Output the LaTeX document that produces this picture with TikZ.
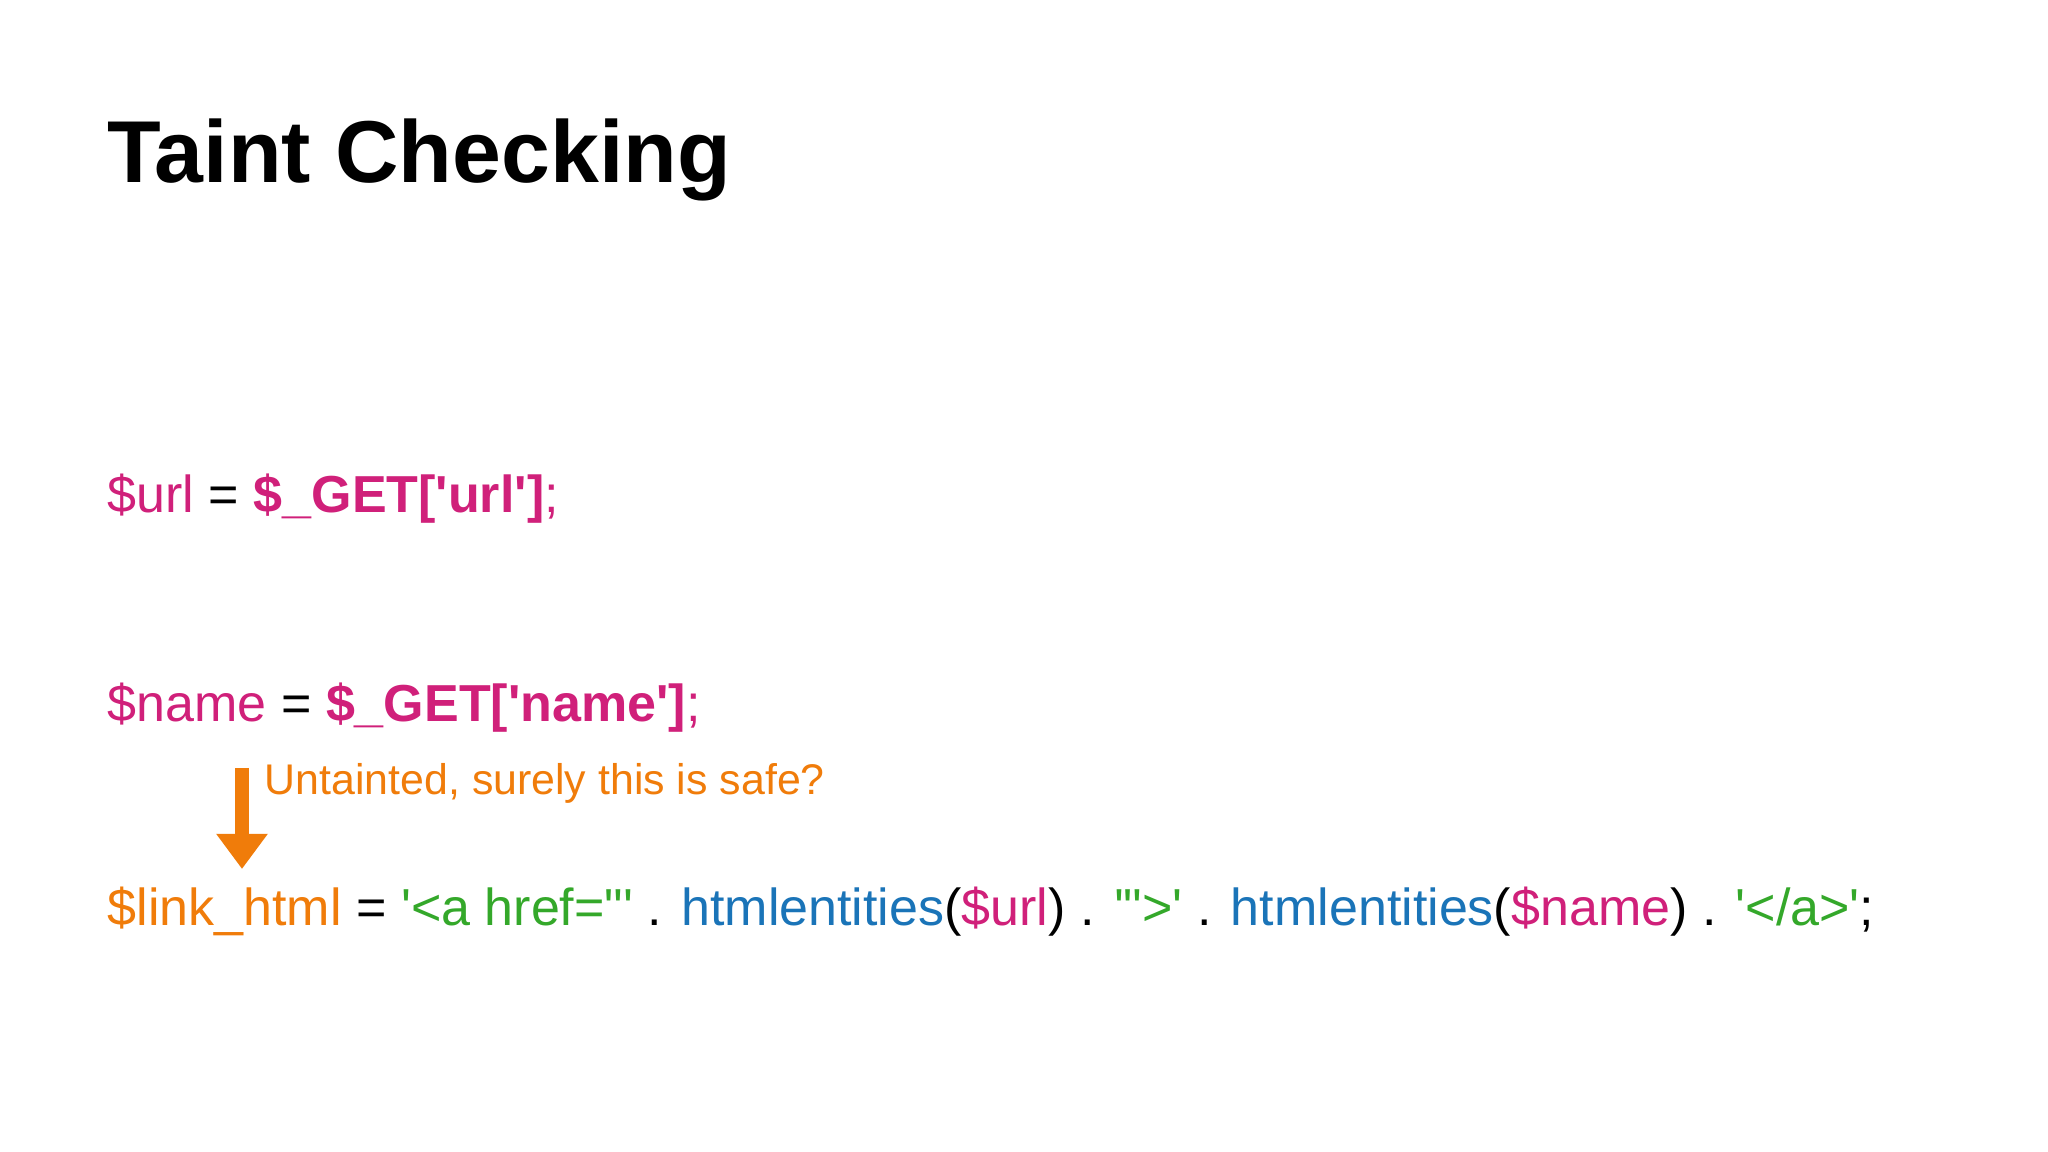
\documentclass[tikz,border=0pt]{standalone}
\usepackage{fontspec}
\setmainfont{Liberation Sans}
\newfontfamily\codefont{Liberation Sans}
\usetikzlibrary{arrows.meta}
\definecolor{mag}{HTML}{D0207A}
\definecolor{grn}{HTML}{34A82A}
\definecolor{blu}{HTML}{1A74B8}
\definecolor{org}{HTML}{F07C0A}
\begin{document}
\begin{tikzpicture}[x=1cm,y=-1cm,
  code/.style={anchor=base west,inner sep=0pt,font=\codefont\fontsize{14.8}{18}\selectfont},
  note/.style={anchor=base west,inner sep=0pt,text=org,font=\fontsize{12.2}{15}\selectfont}]
\useasboundingbox[fill=white] (0,0) rectangle (20.48,11.52);
\node[anchor=base west,inner sep=0pt,font=\fontsize{25}{30}\bfseries\selectfont] (title) at (1.07,1.83) {Taint Checking};
\node[code] (l1) at (1.07,5.13) {\textcolor{mag}{\$url} = \textcolor{mag}{\bfseries \$\_GET['url']}\textcolor{mag}{;}};
\node[code] (l2) at (1.07,7.21) {\textcolor{mag}{\$name} = \textcolor{mag}{\bfseries \$\_GET['name']}\textcolor{mag}{;}};
\node[note] (n) at (2.64,7.94) {Untainted, surely this is safe?};
\node[code] (l3) at (1.07,9.25) {\textcolor{org}{\$link\_html} = \textcolor{grn}{'<a href="'} . \textcolor{blu}{htmlentities}(\textcolor{mag}{\$url}) . \textcolor{grn}{'">'} . \textcolor{blu}{htmlentities}(\textcolor{mag}{\$name}) . \textcolor{grn}{'</a>'};};
\coordinate (a1) at (2.42,7.68);
\coordinate (a2) at (2.42,8.69);
\draw[org,line width=4pt,-{Triangle[length=10pt,width=14pt]}] (a1) -- (a2);
\end{tikzpicture}
\end{document}
